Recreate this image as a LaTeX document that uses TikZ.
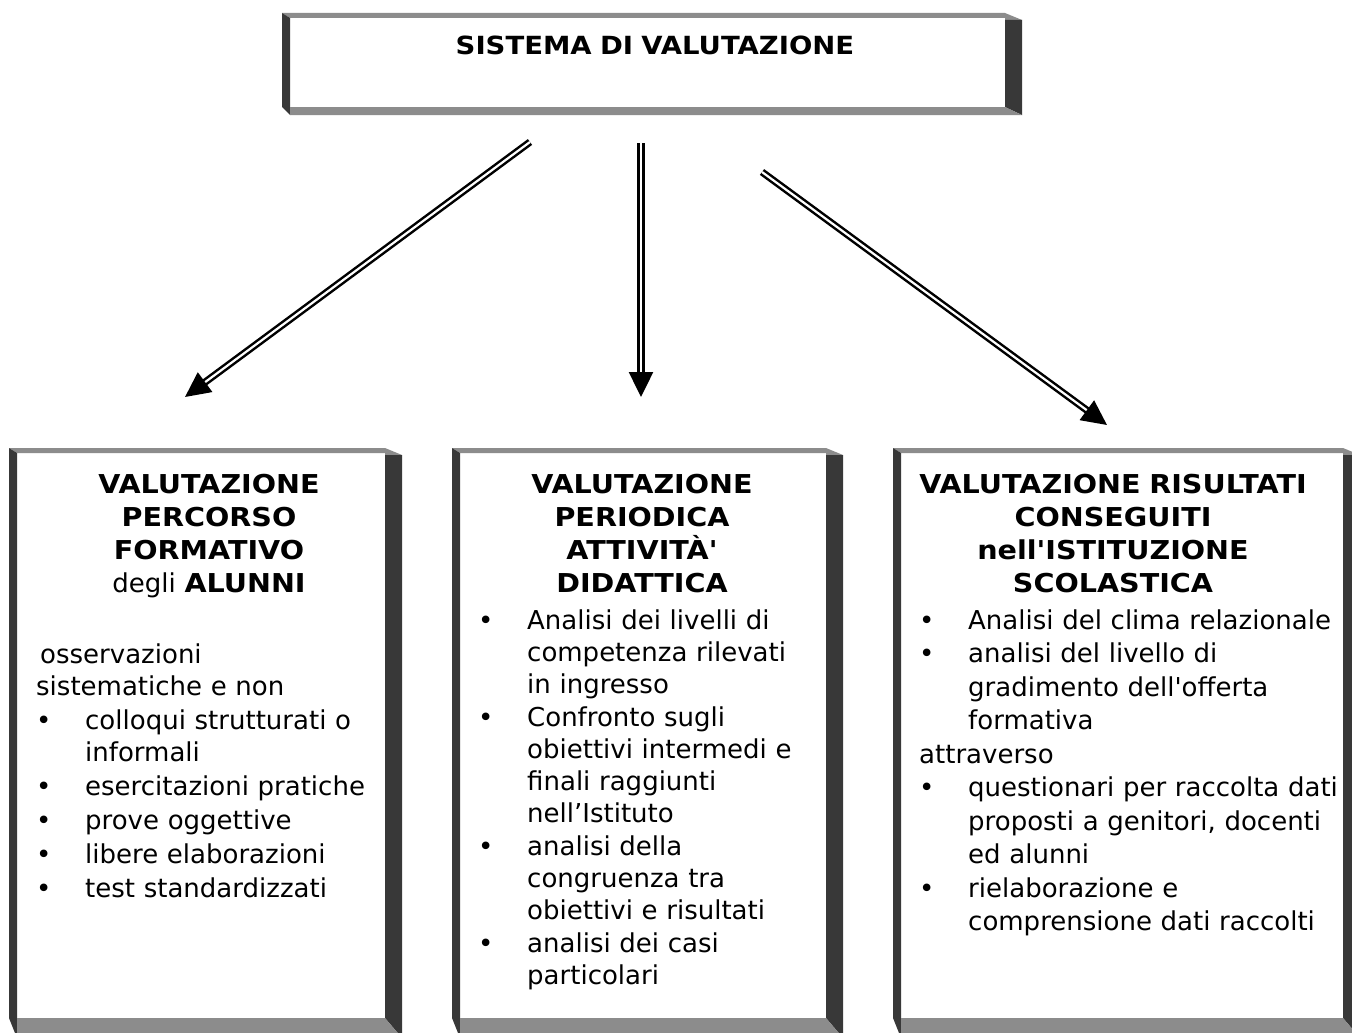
\documentclass[tikz,border=0pt]{standalone}
\usepackage{fontspec}
\newfontfamily\vfont{DejaVu Sans}[BoldFeatures={FakeStretch=1.1}]
\usetikzlibrary{arrows.meta}

\definecolor{bandgrey}{HTML}{8C8C8C}
\definecolor{banddark}{HTML}{383838}

% bevelled frame: x0, y0, x1, y1, bottom band
\newcommand{\bevelbox}[5]{%
  \fill[bandgrey] (#1,#2) -- ({#3-17},#2) -- (#3,{#2+7}) -- ({#3-17},{#2+7}) -- ({#3-17},{#2+5}) -- ({#1+8},{#2+5}) -- cycle;
  \fill[banddark] (#1,#2) -- ({#1+8},{#2+5}) -- ({#1+8},#4) -- (#1,{#4-#5}) -- cycle;
  \fill[banddark] ({#3-17},{#2+7}) -- (#3,{#2+7}) -- (#3,#4) -- ({#3-17},{#4-#5}) -- cycle;
  \fill[bandgrey] ({#1+8},{#4-#5}) -- ({#3-17},{#4-#5}) -- (#3,#4) -- ({#1+8},#4) -- cycle;
}
% bullet line
\newcommand{\itm}[1]{\noindent\hangindent=49pt\hangafter=1\makebox[49pt][l]{\textbullet}#1\par}

\tikzset{
  title/.style={anchor=base, text width=430pt, align=center, inner sep=0pt,
    font=\vfont\fontsize{26}{33}\selectfont},
  body/.style={anchor=base west, text width=440pt, align=left, inner sep=0pt},
  dblarrow/.style={double=white, double distance=2.2pt, line width=2.5pt,
    -{Triangle[length=25pt,width=24pt]}}
}

\begin{document}
\begin{tikzpicture}[x=1pt,y=-1pt]
\useasboundingbox (0,0) rectangle (1352,1033);
\clip (0,0) rectangle (1352,1033);
\fill[white] (0,0) rectangle (1352,1033);

% frames
\bevelbox{282}{13}{1022}{115}{8}
\bevelbox{9}{448}{402}{1038}{20}
\bevelbox{452}{448}{843}{1038}{20}
\bevelbox{893}{448}{1360}{1038}{20}

% head
\node[title, font=\vfont\fontsize{25}{33}\selectfont] (sistema) at (655,55) {\textbf{SISTEMA DI VALUTAZIONE}};

% titles
\node[title] (percorso) at (209,493) {\textbf{VALUTAZIONE}\\ \textbf{PERCORSO}\\ \textbf{FORMATIVO}\\ degli \textbf{ALUNNI}};
\node[title] (periodica) at (642,493) {\textbf{VALUTAZIONE}\\ \textbf{PERIODICA}\\ \textbf{ATTIVITÀ'}\\ \textbf{DIDATTICA}};
\node[title] (risultati) at (1113,493) {\textbf{VALUTAZIONE RISULTATI}\\ \textbf{CONSEGUITI}\\ \textbf{nell'ISTITUZIONE}\\ \textbf{SCOLASTICA}};

% lists
\node[body, font=\vfont\fontsize{26}{32.3}\selectfont] (alunni) at (36,663) {%
\setlength{\parskip}{1.6pt}%
\noindent\hspace*{4pt}osservazioni\newline sistematiche e non\par
\itm{colloqui strutturati o\newline informali}
\itm{esercitazioni pratiche}
\itm{prove oggettive}
\itm{libere elaborazioni}
\itm{test standardizzati}};

\node[body, font=\vfont\fontsize{26}{32}\selectfont] (didattica) at (478,629) {%
\setlength{\parskip}{1pt}%
\itm{Analisi dei livelli di\newline competenza rilevati\newline in ingresso}
\itm{Confronto sugli\newline obiettivi intermedi e\newline finali raggiunti\newline nell’Istituto}
\itm{analisi della\newline congruenza tra\newline obiettivi e risultati}
\itm{analisi dei casi\newline particolari}};

\node[body, font=\vfont\fontsize{26}{33.5}\selectfont] (istituzione) at (919,629) {%
\setlength{\parskip}{0pt}%
\itm{Analisi del clima relazionale}
\itm{analisi del livello di\newline gradimento dell'offerta\newline formativa}
\noindent attraverso\par
\itm{questionari per raccolta dati\newline proposti a genitori, docenti\newline ed alunni}
\itm{rielaborazione e\newline comprensione dati raccolti}};

% arrows
\coordinate (fromL) at (530,142);
\coordinate (toL) at (185,397);
\coordinate (fromM) at (641,143);
\coordinate (toM) at (641,397);
\coordinate (fromR) at (762,172);
\coordinate (toR) at (1107,425);
\draw[dblarrow] (fromL) -- (toL);
\draw[dblarrow] (fromM) -- (toM);
\draw[dblarrow] (fromR) -- (toR);
\end{tikzpicture}
\end{document}
